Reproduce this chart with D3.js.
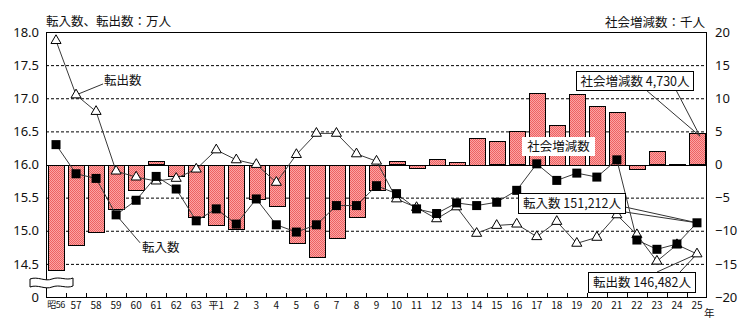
<!DOCTYPE html>
<html><head><meta charset="utf-8">
<script src="https://cdn.jsdelivr.net/npm/d3@7"></script>
<style>
html,body{margin:0;padding:0;background:#fff;}
svg{display:block;font-family:"Noto Sans CJK JP","Noto Sans",sans-serif;}
</style></head>
<body><svg id="c" width="751" height="327"></svg>
<script>
const categories = ["昭56","57","58","59","60","61","62","63","平1","2","3","4","5","6","7","8","9","10","11","12","13","14","15","16","17","18","19","20","21","22","23","24","25"];
// 社会増減数（千人）
const socialChange = [-15.8,-12.1,-10.1,-6.6,-3.7,0.5,-1.7,-7.9,-9.0,-9.7,-5.2,-6.2,-11.8,-13.9,-11.0,-7.9,-3.8,0.5,-0.5,0.85,0.4,4.0,3.5,5.0,10.8,6.0,10.7,8.9,8.0,-0.55,2.0,0.15,4.73];
// 転入数（万人）
const inflow = [16.30,15.86,15.79,15.24,15.46,15.82,15.63,15.15,15.33,15.10,15.48,15.09,14.98,15.09,15.38,15.38,15.68,15.56,15.33,15.26,15.42,15.38,15.43,15.61,16.01,15.76,15.87,15.81,16.07,14.86,14.72,14.80,15.12];
// 転出数（万人）
const outflow = [17.87,17.05,16.80,15.90,15.81,15.75,15.79,15.93,16.22,16.07,16.00,15.73,16.15,16.47,16.47,16.16,16.05,15.48,15.35,15.18,15.36,14.96,15.08,15.10,14.91,15.14,14.81,14.90,15.24,14.94,14.54,14.79,14.65];
const leftTicks = [14,14.5,15,15.5,16,16.5,17,17.5,18];
const leftTickLabels = ["0","14.5","15.0","15.5","16.0","16.5","17.0","17.5","18.0"];
const rightTicks = [-20,-15,-10,-5,0,5,10,15,20];
const leftTitle = "転入数、転出数：万人";
const rightTitle = "社会増減数：千人";
const labelOut = "転出数", labelIn = "転入数", labelSocial = "社会増減数";
const noteSocial = "社会増減数 4,730人", noteIn = "転入数 151,212人", noteOut = "転出数 146,482人";
const yearUnit = "年";

const L=46,R=707,T=32,B=297;
const svg=d3.select("#c");
const defs=svg.append("defs");
const pat=defs.append("pattern").attr("id","hatch").attr("width",2).attr("height",2).attr("patternUnits","userSpaceOnUse");
pat.append("rect").attr("width",2).attr("height",2).attr("fill","#fba4a4");
pat.append("rect").attr("width",1).attr("height",1).attr("fill","#ee6262");
pat.append("rect").attr("x",1).attr("y",1).attr("width",1).attr("height",1).attr("fill","#ee6262");

const x=d3.scaleBand().domain(categories).range([L,R]).paddingInner(0.22).paddingOuter(0.11);
const step=x.step();
const cx=d=>x(d)+x.bandwidth()/2;
const yL=d3.scaleLinear().domain([14,18]).range([B,T]);
const yR=d3.scaleLinear().domain([-20,20]).range([B,T]);

// gridlines
svg.append("g").selectAll("line").data(leftTicks.filter(v=>v>14&&v<18&&v!==16)).join("line")
  .attr("x1",L).attr("x2",R).attr("y1",d=>yL(d)+0.5).attr("y2",d=>yL(d)+0.5)
  .attr("stroke","#000").attr("stroke-width",1).attr("stroke-dasharray","3,2");

// bars
svg.append("g").selectAll("rect").data(categories).join("rect")
  .attr("x",d=>Math.round(x(d))+0.5)
  .attr("width",Math.round(x.bandwidth()))
  .attr("y",(d,i)=>Math.round(yR(Math.max(0,socialChange[i])))+0.5)
  .attr("height",(d,i)=>Math.max(1,Math.round(Math.abs(yR(socialChange[i])-yR(0)))))
  .attr("fill","url(#hatch)").attr("stroke","#000").attr("stroke-width",1);

// zero line
svg.append("line").attr("x1",L).attr("x2",R).attr("y1",Math.round(yR(0))+0.5).attr("y2",Math.round(yR(0))+0.5).attr("stroke","#000");

// annotation leaders
const ann=svg.append("g").attr("stroke","#333").attr("stroke-width",1).attr("fill","none");
const last=categories.length-1;
ann.append("line").attr("x1",cx(categories[1])).attr("y1",yL(outflow[1])).attr("x2",cx(categories[1])+27).attr("y2",yL(outflow[1])-11);
ann.append("line").attr("x1",cx(categories[3])).attr("y1",yL(inflow[3])).attr("x2",cx(categories[3])+24).attr("y2",yL(inflow[3])+28);
const pS=[cx(categories[last])+3,yR(socialChange[last])+3];
ann.append("polyline").attr("points",[[646,90],pS,[676,90]].map(p=>p.join(",")).join(" "));
const pI=[cx(categories[last]),yL(inflow[last])];
ann.append("polyline").attr("points",[[625,207],pI,[625,212]].map(p=>p.join(",")).join(" "));
const pO=[cx(categories[last]),yL(outflow[last])];
ann.append("polyline").attr("points",[[657,272],pO,[680,272]].map(p=>p.join(",")).join(" "));

// lines
const line=d3.line().x((d,i)=>cx(categories[i])).y(d=>yL(d));
svg.append("path").datum(outflow).attr("d",line).attr("fill","none").attr("stroke","#3a3a3a").attr("stroke-width",1);
svg.append("path").datum(inflow).attr("d",line).attr("fill","none").attr("stroke","#3a3a3a").attr("stroke-width",1);

// markers
svg.append("g").selectAll("path").data(outflow).join("path")
  .attr("transform",(d,i)=>`translate(${cx(categories[i])},${yL(d)})`)
  .attr("d",d3.symbol(d3.symbolTriangle,44)).attr("fill","#fff").attr("stroke","#000").attr("stroke-width",1);
svg.append("g").selectAll("rect").data(inflow).join("rect")
  .attr("x",(d,i)=>cx(categories[i])-4.5).attr("y",d=>yL(d)-4.5).attr("width",9).attr("height",9).attr("fill","#000");

// frame
svg.append("rect").attr("x",L+0.5).attr("y",T+0.5).attr("width",R-L-1).attr("height",B-T).attr("fill","none").attr("stroke","#000");

// x ticks (inward, at category boundaries)
svg.append("g").selectAll("line").data(categories.slice(1)).join("line")
  .attr("x1",d=>Math.round(x(d)-(step-x.bandwidth())/2)+0.5)
  .attr("x2",d=>Math.round(x(d)-(step-x.bandwidth())/2)+0.5)
  .attr("y1",B).attr("y2",B-4).attr("stroke","#000");

// axes
const axL=svg.append("g").attr("transform",`translate(${L},0)`)
  .call(d3.axisLeft(yL).tickValues(leftTicks).tickSize(0).tickPadding(7).tickFormat((d,i)=>leftTickLabels[i]));
axL.select(".domain").remove();
axL.selectAll("text").attr("font-size",13).attr("fill","#111").attr("font-family","Noto Sans, sans-serif");
const axR=svg.append("g").attr("transform",`translate(${R},0)`)
  .call(d3.axisRight(yR).tickValues(rightTicks).tickSize(0).tickPadding(8));
axR.select(".domain").remove();
axR.selectAll("text").attr("font-size",13).attr("fill","#111").attr("font-family","Noto Sans, sans-serif");
const axB=svg.append("g").attr("transform",`translate(0,${B})`)
  .call(d3.axisBottom(x).tickSize(0).tickPadding(5));
axB.select(".domain").remove();
axB.selectAll("text").attr("font-size",10).attr("fill","#111").attr("font-family","Noto Sans CJK JP, sans-serif");
axB.selectAll("text").filter(d=>d===categories[0]).attr("font-size",9).attr("letter-spacing",-0.5);

// axis break symbol
svg.append("path")
  .attr("d","M30,279 C38,276 45,282 52,279 C60,276 66,281 73,278 L73,286 C66,289 60,284 52,287 C45,290 38,284 30,287 Z")
  .attr("fill","#fff").attr("stroke","#000").attr("stroke-width",1);

// titles
svg.append("text").attr("x",46).attr("y",26).attr("font-size",12.5).attr("fill","#111").text(leftTitle);
svg.append("text").attr("x",705).attr("y",27).attr("text-anchor","end").attr("font-size",12.5).attr("fill","#111").text(rightTitle);
svg.append("text").attr("x",704).attr("y",317).attr("font-size",10.5).attr("fill","#111").text(yearUnit);

// labels
svg.append("text").attr("x",104).attr("y",85).attr("font-size",12.5).attr("fill","#111").text(labelOut);
svg.append("text").attr("x",142).attr("y",252).attr("font-size",12.5).attr("fill","#111").text(labelIn);
svg.append("rect").attr("x",522).attr("y",137).attr("width",73).attr("height",19).attr("fill","#fff");
svg.append("text").attr("x",558.5).attr("y",151).attr("text-anchor","middle").attr("font-size",12.5).attr("fill","#111").text(labelSocial);

function box(x0,y0,w,h,t){
  svg.append("rect").attr("x",x0+0.5).attr("y",y0+0.5).attr("width",w).attr("height",h).attr("fill","#fff").attr("stroke","#000");
  svg.append("text").attr("x",x0+w/2+0.5).attr("y",y0+h/2+5).attr("text-anchor","middle").attr("font-size",12.5).attr("fill","#111").text(t);
}
box(576,71,117,19,noteSocial);
box(518,193,107,20,noteIn);
box(588,272,107,20,noteOut);
</script></body></html>
